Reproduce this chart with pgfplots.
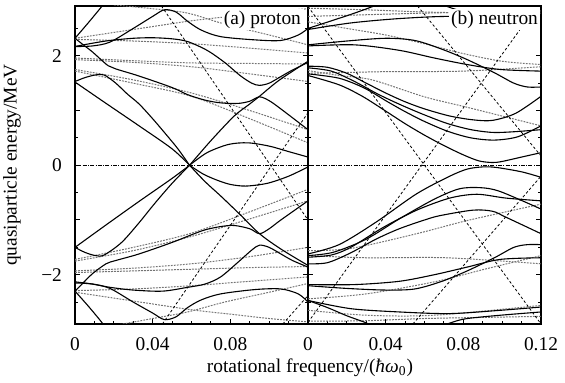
\documentclass[border=0pt]{standalone}
\usepackage{fontspec}
\setmainfont{Liberation Serif}
\usepackage{pgfplots}
\pgfplotsset{compat=1.18}
\pgfplotsset{
  sl/.style={black, line width=0.55pt, smooth},
  dl/.style={black!55, line width=0.5pt, dash pattern=on 0.9pt off 0.6pt, smooth},
  st/.style={black, line width=0.4pt, dash pattern=on 1.3pt off 1.1pt},
  zl/.style={black, line width=0.45pt, dash pattern=on 2pt off 0.7pt on 0.4pt off 0.7pt},
  common/.style={
    scale only axis, width=116.5pt, height=159pt,
    xmin=0, xmax=0.12, ymin=-2.9, ymax=2.91,
    axis line style={line width=0.6pt},
    tick style={black, line width=0.5pt},
    tick align=inside, xtick pos=bottom, ytick pos=both,
    major tick length=2.6pt, minor tick length=1.6pt,
    ytick={-2,-1,0,1,2},
    minor ytick={-2.5,-1.5,-0.5,0.5,1.5,2.5},
    minor xtick={0.01,0.02,0.03,0.05,0.06,0.07,0.09,0.10,0.11},
    tick label style={font=\fontsize{9.7}{10}\selectfont},
    xticklabel style={yshift=-3.2pt},
    yticklabel style={xshift=-3pt},
    clip=true,
  }
}
\begin{document}
\begin{tikzpicture}
% ---------------- (a) proton ----------------
\begin{axis}[common, at={(0,0)}, anchor=south west,
  xtick={0,0.04,0.08}, xticklabels={0,0.04,0.08},
  yticklabels={−2,,0,,2}]
% zero line
\addplot[zl] coordinates {(0,0) (0.12,0)};
% dotted upper
\addplot[dl] coordinates {(0,2.32) (0.03,2.48) (0.06,2.64) (0.08,2.72) (0.1,2.8) (0.12,2.86)};
\addplot[dl] coordinates {(0,2.3) (0.03,2.27) (0.06,2.22) (0.09,2.14) (0.12,2.05)};
\addplot[dl] coordinates {(0.02,2.93) (0.04,2.86) (0.058,2.78) (0.077,2.58) (0.1,2.38) (0.12,2.2)};
\addplot[dl] coordinates {(0,1.96) (0.03,1.91) (0.06,1.87) (0.09,1.86) (0.12,1.85)};
\addplot[dl] coordinates {(0,1.93) (0.03,1.88) (0.06,1.8) (0.09,1.67) (0.12,1.53)};
\addplot[dl] coordinates {(0,1.75) (0.03,1.56) (0.06,1.32) (0.09,1.0) (0.12,0.65)};
\addplot[dl] coordinates {(0,1.72) (0.03,1.5) (0.06,1.26) (0.09,0.85) (0.12,0.41)};
% dotted lower
\addplot[dl] coordinates {(0,-2.32) (0.03,-2.48) (0.06,-2.64) (0.08,-2.72) (0.1,-2.8) (0.12,-2.86)};
\addplot[dl] coordinates {(0,-2.29) (0.03,-2.26) (0.06,-2.2) (0.09,-2.12) (0.12,-2.04)};
\addplot[dl] coordinates {(0.02,-2.93) (0.04,-2.8) (0.058,-2.68) (0.077,-2.5) (0.1,-2.32) (0.12,-2.16)};
\addplot[dl] coordinates {(0,-1.96) (0.03,-1.93) (0.06,-1.9) (0.09,-1.87) (0.12,-1.85)};
\addplot[dl] coordinates {(0,-1.93) (0.03,-1.88) (0.06,-1.8) (0.09,-1.67) (0.12,-1.5)};
\addplot[dl] coordinates {(0,-1.75) (0.03,-1.56) (0.06,-1.3) (0.09,-0.98) (0.12,-0.65)};
\addplot[dl] coordinates {(0,-1.72) (0.03,-1.5) (0.06,-1.24) (0.09,-0.85) (0.12,-0.44)};
% steep dashed
\addplot[st] coordinates {(0.0445,2.91) (0.12,-1.0)};
\addplot[st] coordinates {(0.045,-2.9) (0.12,0.96)};
\addplot[st] coordinates {(0.107,-2.9) (0.12,-2.38)};
% solid upper
\addplot[sl] coordinates {(0,2.32) (0.007,2.61) (0.014,2.91) (0.016,3.0)};
\addplot[sl] coordinates {(0,2.17) (0.009,2.18) (0.018,2.25) (0.03,2.5) (0.04,2.72) (0.046,2.84) (0.052,2.8) (0.058,2.63) (0.065,2.47) (0.075,2.35) (0.093,2.29) (0.106,2.28) (0.115,2.38) (0.12,2.5)};
\addplot[sl] coordinates {(0,2.17) (0.009,2.23) (0.018,2.28) (0.03,2.32) (0.04,2.33) (0.05,2.31) (0.058,2.26) (0.068,2.1) (0.077,1.88) (0.085,1.64) (0.091,1.5) (0.095,1.46) (0.1,1.5) (0.106,1.62) (0.112,1.74) (0.12,1.88)};
\addplot[sl] coordinates {(0,2.32) (0.005,2.18) (0.009,2.07) (0.017,1.82) (0.021,1.76) (0.033,1.63) (0.05,1.42) (0.058,1.29) (0.067,1.19) (0.075,1.14) (0.084,1.13) (0.09,1.17) (0.095,1.25) (0.1,1.18) (0.106,1.03) (0.12,0.65)};
\addplot[sl] coordinates {(0,1.53) (0.005,1.6) (0.0105,1.65) (0.015,1.65) (0.021,1.5) (0.027,1.3) (0.033,1.12) (0.04,0.85) (0.0465,0.58) (0.053,0.3) (0.059,0)};
\addplot[sl] coordinates {(0,1.52) (0.0156,1.14) (0.033,0.72) (0.05,0.3) (0.059,0)};
\addplot[sl] coordinates {(0.059,0) (0.07,0.45) (0.082,0.9) (0.09,1.12) (0.095,1.26) (0.105,1.55) (0.12,1.9)};
\addplot[sl] coordinates {(0.059,0) (0.068,0.23) (0.079,0.38) (0.089,0.41) (0.1,0.35) (0.11,0.25) (0.12,0.15)};
% solid lower
\addplot[sl] coordinates {(0,-2.3) (0.007,-2.58) (0.014,-2.88) (0.016,-3.0)};
\addplot[sl] coordinates {(0,-2.15) (0.009,-2.17) (0.018,-2.25) (0.03,-2.5) (0.04,-2.7) (0.046,-2.82) (0.052,-2.77) (0.058,-2.6) (0.065,-2.46) (0.075,-2.35) (0.093,-2.27) (0.106,-2.26) (0.115,-2.35) (0.12,-2.5)};
\addplot[sl] coordinates {(0,-2.13) (0.009,-2.17) (0.018,-2.23) (0.03,-2.28) (0.045,-2.3) (0.058,-2.23) (0.067,-2.17) (0.075,-2.04) (0.084,-1.77) (0.091,-1.55) (0.095,-1.46) (0.1,-1.5) (0.106,-1.62) (0.112,-1.74) (0.12,-1.86)};
\addplot[sl] coordinates {(0,-2.3) (0.005,-2.12) (0.009,-1.98) (0.016,-1.8) (0.021,-1.74) (0.033,-1.62) (0.05,-1.41) (0.06,-1.27) (0.067,-1.18) (0.075,-1.12) (0.082,-1.1) (0.09,-1.16) (0.095,-1.25) (0.1,-1.16) (0.106,-1.0) (0.12,-0.65)};
\addplot[sl] coordinates {(0,-1.5) (0.005,-1.59) (0.0105,-1.65) (0.015,-1.64) (0.024,-1.41) (0.033,-1.05) (0.041,-0.7) (0.05,-0.33) (0.059,0)};
\addplot[sl] coordinates {(0,-1.5) (0.0156,-1.1) (0.033,-0.66) (0.05,-0.24) (0.059,0)};
\addplot[sl] coordinates {(0.059,0) (0.067,-0.3) (0.075,-0.56) (0.085,-0.9) (0.095,-1.25) (0.106,-1.53) (0.12,-1.83)};
\addplot[sl] coordinates {(0.059,0) (0.066,-0.16) (0.073,-0.27) (0.08,-0.35) (0.088,-0.38) (0.099,-0.33) (0.11,-0.2) (0.12,-0.03)};
\node[anchor=north east, fill=white, inner sep=1pt, font=\fontsize{9.7}{10}\selectfont] at (rel axis cs:0.98,0.993) {(a) proton};
\end{axis}
% ---------------- (b) neutron ----------------
\begin{axis}[common, at={(116.5pt,0)}, anchor=south west,
  xtick={0,0.04,0.08,0.12}, xticklabels={0,0.04,0.08,0.12},
  yticklabels={}]
\addplot[zl] coordinates {(0,0) (0.12,0)};
% dotted upper
\addplot[dl] coordinates {(0,2.87) (0.03,2.84) (0.06,2.8) (0.09,2.78) (0.12,2.78)};
\addplot[dl] coordinates {(0,2.72) (0.03,2.75) (0.06,2.78) (0.09,2.8) (0.12,2.82)};
\addplot[dl] coordinates {(0,2.62) (0.02,2.5) (0.04,2.38) (0.06,2.22) (0.08,2.04) (0.1,1.9) (0.12,1.84)};
\addplot[dl] coordinates {(0,1.68) (0.04,1.71) (0.08,1.72) (0.12,1.8)};
\addplot[dl] coordinates {(0,1.73) (0.016,1.64) (0.033,1.56) (0.06,1.25) (0.083,1.05) (0.12,0.72)};
% dotted lower
\addplot[dl] coordinates {(0,-2.85) (0.03,-2.84) (0.06,-2.8) (0.09,-2.78) (0.12,-2.76)};
\addplot[dl] coordinates {(0,-2.65) (0.03,-2.74) (0.065,-2.74) (0.12,-2.56)};
\addplot[dl] coordinates {(0,-2.44) (0.03,-2.35) (0.065,-2.13) (0.092,-1.89) (0.12,-1.65)};
\addplot[dl] coordinates {(0,-1.65) (0.03,-1.69) (0.071,-1.69) (0.12,-1.8)};
\addplot[dl] coordinates {(0,-1.56) (0.022,-1.52) (0.056,-1.25) (0.082,-1.01) (0.12,-0.71)};
% steep dashed
\addplot[st] coordinates {(0,2.9) (0.12,-2.9)};
\addplot[st] coordinates {(0,-2.87) (0.109,2.47)};
\addplot[st] coordinates {(0.0564,2.91) (0.12,0.17)};
\addplot[st] coordinates {(0.054,-2.9) (0.12,-0.2)};
% solid upper
\addplot[sl] coordinates {(0,2.48) (0.022,2.6) (0.047,2.68) (0.073,2.72) (0.099,2.68) (0.12,2.62)};
\addplot[sl] coordinates {(0,2.5) (0.013,2.65) (0.024,2.78) (0.034,2.91) (0.036,2.95)};
\addplot[sl] coordinates {(0.068,2.95) (0.075,2.86) (0.082,2.8) (0.099,2.74) (0.12,2.68)};
\addplot[sl] coordinates {(0,2.2) (0.02,2.27) (0.04,2.32) (0.055,2.28) (0.069,2.12) (0.082,1.93) (0.096,1.69) (0.106,1.5) (0.113,1.43) (0.12,1.43)};
\addplot[sl] coordinates {(0,2.18) (0.024,2.2) (0.047,2.1) (0.065,1.96) (0.082,1.84) (0.099,1.75) (0.12,1.72)};
\addplot[sl] coordinates {(0,1.81) (0.01,1.79) (0.02,1.68) (0.03,1.5) (0.04,1.32) (0.05,1.16) (0.06,1.03) (0.073,0.9) (0.085,0.83) (0.095,0.82) (0.107,0.95) (0.12,1.26)};
\addplot[sl] coordinates {(0,1.78) (0.012,1.72) (0.024,1.53) (0.036,1.3) (0.048,1.1) (0.06,0.92) (0.072,0.76) (0.084,0.65) (0.095,0.6) (0.105,0.61) (0.12,0.65)};
\addplot[sl] coordinates {(0,1.67) (0.016,1.59) (0.029,1.41) (0.041,1.16) (0.05,0.98) (0.06,0.8) (0.072,0.62) (0.084,0.5) (0.096,0.46) (0.108,0.52) (0.12,0.72)};
\addplot[sl] coordinates {(0,1.64) (0.016,1.47) (0.028,1.26) (0.04,0.99) (0.05,0.76) (0.06,0.55) (0.07,0.36) (0.08,0.19) (0.088,0.08) (0.095,0.05) (0.1,0.07) (0.11,0.15) (0.12,0.23)};
% solid lower
\addplot[sl] coordinates {(0,-2.47) (0.022,-2.62) (0.047,-2.68) (0.073,-2.71) (0.099,-2.65) (0.12,-2.59)};
\addplot[sl] coordinates {(0,-2.47) (0.01,-2.6) (0.02,-2.75) (0.03,-2.88) (0.033,-2.95)};
\addplot[sl] coordinates {(0.068,-2.95) (0.075,-2.86) (0.082,-2.8) (0.099,-2.74) (0.12,-2.68)};
\addplot[sl] coordinates {(0,-2.2) (0.02,-2.25) (0.04,-2.28) (0.055,-2.26) (0.069,-2.12) (0.082,-1.93) (0.096,-1.69) (0.106,-1.5) (0.113,-1.45) (0.12,-1.45)};
\addplot[sl] coordinates {(0,-2.18) (0.024,-2.18) (0.047,-2.12) (0.065,-2.0) (0.082,-1.86) (0.099,-1.72) (0.12,-1.69)};
\addplot[sl] coordinates {(0,-1.8) (0.01,-1.78) (0.022,-1.6) (0.035,-1.35) (0.047,-1.16) (0.06,-1.0) (0.068,-0.92) (0.085,-0.82) (0.095,-0.84) (0.102,-0.95) (0.12,-1.25)};
\addplot[sl] coordinates {(0,-1.68) (0.012,-1.64) (0.022,-1.5) (0.039,-1.13) (0.056,-0.82) (0.073,-0.6) (0.087,-0.53) (0.102,-0.6) (0.12,-0.65)};
\addplot[sl] coordinates {(0,-1.65) (0.013,-1.59) (0.03,-1.35) (0.047,-0.98) (0.065,-0.62) (0.078,-0.43) (0.089,-0.41) (0.099,-0.48) (0.12,-0.8)};
\addplot[sl] coordinates {(0,-1.62) (0.016,-1.45) (0.035,-1.04) (0.056,-0.52) (0.073,-0.2) (0.082,-0.07) (0.09,-0.03) (0.097,-0.04) (0.11,-0.12) (0.12,-0.22)};
\node[anchor=north east, fill=white, inner sep=1pt, font=\fontsize{9.7}{10}\selectfont] at (rel axis cs:0.997,0.993) {(b) neutron};
\end{axis}
\node[rotate=90, font=\fontsize{9.7}{10}\selectfont] at (-31.5pt,79.5pt) {quasiparticle energy/MeV};
\node[font=\fontsize{9.7}{10}\selectfont] at (117.5pt,-22pt) {rotational frequency/(\textit{ħω}\textsubscript{0})};
\pgfresetboundingbox
\path[use as bounding box] (-37.5pt,-29.5pt) rectangle (245pt,162pt);
\end{tikzpicture}
\end{document}
